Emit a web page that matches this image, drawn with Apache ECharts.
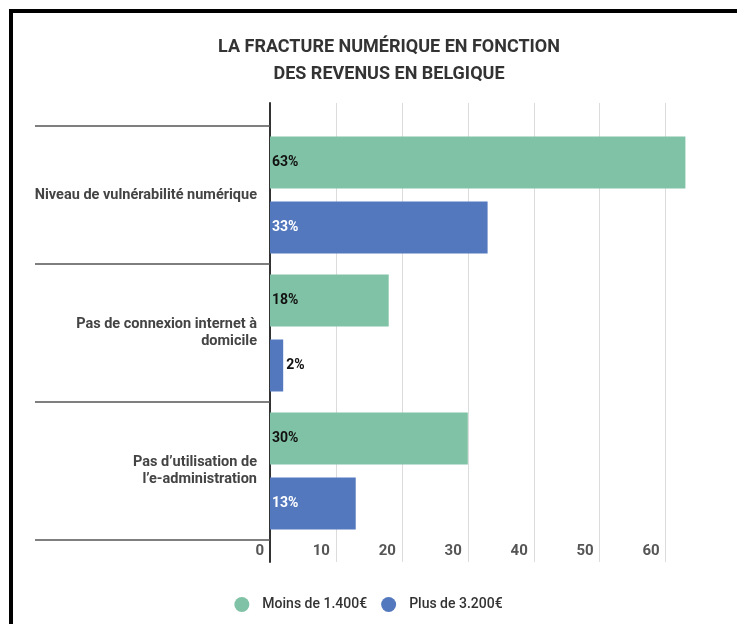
<!DOCTYPE html>
<html>
<head>
<meta charset="utf-8">
<script src="https://cdn.jsdelivr.net/npm/echarts@6/dist/echarts.min.js"></script>
<style>
html,body{margin:0;padding:0;background:#fff;}
#chart{width:737px;height:624px;}
</style>
</head>
<body>
<div id="chart"></div>
<script>
const titleText = 'LA FRACTURE NUMÉRIQUE EN FONCTION\nDES REVENUS EN BELGIQUE';
const categories = [
  'Niveau de vulnérabilité numérique',
  'Pas de connexion internet à\ndomicile',
  'Pas d’utilisation de\nl’e-administration'
];
const seriesNames = ['Moins de 1.400€', 'Plus de 3.200€'];
const lowIncome = [63, 18, 30];
const highIncome = [33, 2, 13];
const axisMin = 0;
const axisMax = 64;
const axisInterval = 10;

const FONT = 'Roboto, "Noto Sans", sans-serif';
const GREEN = '#80c2a5';
const BLUE = '#5478be';

function barData(values, insideColor) {
  return values.map(v => {
    if (v < 5) {
      return { value: v, label: { position: 'right', distance: 3, color: '#111' } };
    }
    return { value: v, label: { color: insideColor } };
  });
}

const chart = echarts.init(document.getElementById('chart'), null, { renderer: 'canvas' });
chart.setOption({
  animation: false,
  backgroundColor: '#fff',
  title: {
    text: titleText,
    left: 384,
    top: 29,
    textAlign: 'center',
    textStyle: { fontFamily: FONT, fontSize: 18, fontWeight: 'bold', color: '#333', lineHeight: 27 }
  },
  legend: {
    top: 592,
    left: 'center',
    icon: 'circle',
    itemWidth: 15,
    itemHeight: 15,
    itemGap: 14,
    data: seriesNames,
    textStyle: { fontFamily: FONT, fontSize: 14, fontWeight: 500, color: '#333', padding: [0, 0, 0, 8] }
  },
  graphic: [
    { type: 'rect', shape: { x: 9, y: 9, width: 728, height: 4 }, style: { fill: '#000' } },
    { type: 'rect', shape: { x: 9, y: 9, width: 4, height: 615 }, style: { fill: '#000' } }
  ],
  grid: [
    { left: 270, right: 45, top: 103, bottom: 62 },
    { left: 270, right: 45, top: 126, bottom: 84 }
  ],
  xAxis: [
    {
      gridIndex: 0, type: 'value', min: axisMin, max: axisMax, interval: axisInterval,
      axisLine: { show: false }, axisTick: { show: false },
      splitLine: { show: true, showMaxLine: false, lineStyle: { color: '#dcdcdc', width: 1 } },
      axisLabel: {
        inside: true, margin: 3, align: 'right', padding: [0, 6, 0, 0],
        showMaxLabel: false,
        fontFamily: FONT, fontSize: 15, fontWeight: 'bold', color: '#555'
      }
    },
    {
      gridIndex: 1, type: 'value', min: axisMin, max: axisMax, interval: axisInterval, show: false
    }
  ],
  yAxis: [
    {
      gridIndex: 0, type: 'value', min: 0, max: 1,
      axisLine: { show: true, lineStyle: { color: '#333', width: 2 } },
      axisTick: { show: false }, axisLabel: { show: false }, splitLine: { show: false }
    },
    {
      gridIndex: 1, type: 'category', inverse: true, data: categories,
      axisLine: { show: false },
      axisTick: { show: true, length: 235, lineStyle: { color: '#555', width: 1.5 } },
      axisLabel: {
        margin: 13, fontFamily: FONT, fontSize: 14.5, fontWeight: 'bold', color: '#444', lineHeight: 17
      },
      splitLine: { show: false }
    }
  ],
  series: [
    {
      name: seriesNames[0], type: 'bar', xAxisIndex: 1, yAxisIndex: 1,
      data: barData(lowIncome, '#111'),
      barWidth: 52, barGap: '25%',
      itemStyle: { color: GREEN },
      label: { show: true, position: 'insideLeft', distance: 2, formatter: '{c}%',
               fontFamily: FONT, fontSize: 14, fontWeight: 'bold' }
    },
    {
      name: seriesNames[1], type: 'bar', xAxisIndex: 1, yAxisIndex: 1,
      data: barData(highIncome, '#fff'),
      barWidth: 52, barGap: '25%',
      itemStyle: { color: BLUE },
      label: { show: true, position: 'insideLeft', distance: 2, formatter: '{c}%',
               fontFamily: FONT, fontSize: 14, fontWeight: 'bold' }
    }
  ]
});
</script>
</body>
</html>
